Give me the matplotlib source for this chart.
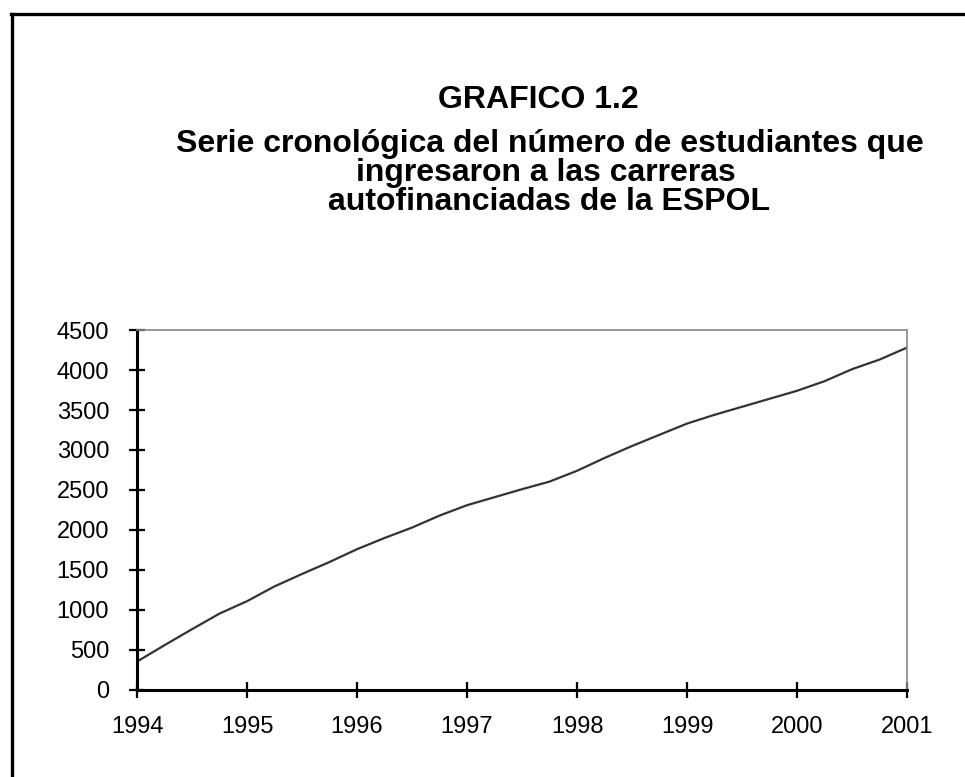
import numpy as np
import matplotlib.pyplot as plt
from matplotlib.lines import Line2D

plt.rcParams['font.family'] = ['Liberation Sans', 'DejaVu Sans']

# quarterly readings, 1994 - 2001
years = np.arange(1994, 2001.01, 0.25)
estudiantes = [355, 560, 760, 955, 1110, 1295, 1450, 1600,
               1760, 1900, 2030, 2180, 2310, 2410, 2510, 2605,
               2740, 2900, 3050, 3190, 3330, 3440, 3540, 3640,
               3740, 3860, 4010, 4130, 4280]
year_ticks = [1994, 1995, 1996, 1997, 1998, 1999, 2000, 2001]
y_ticks = np.arange(0, 4501, 500)

title_lines = ["GRAFICO 1.2",
               "Serie cronológica del número de estudiantes que",
               "ingresaron a las carreras",
               "autofinanciadas de la ESPOL"]


def main():
    fig = plt.figure(figsize=(9.65, 7.77), dpi=100)
    ax = fig.add_axes([137 / 965, 1 - 690 / 777, 770 / 965, 360 / 777])

    ax.plot(years, estudiantes, color='#333333', lw=1.6)
    ax.set_xlim(1994, 2001)
    ax.set_ylim(0, 4500)
    ax.set_xticks(year_ticks)
    ax.set_yticks(y_ticks)
    ax.tick_params(direction='inout', length=12, width=1.6, labelsize=17, pad=13)
    ax.tick_params(axis='y', pad=14)

    for s in ['left', 'bottom']:
        ax.spines[s].set_linewidth(2.2)
        ax.spines[s].set_color('black')
    for s in ['top', 'right']:
        ax.spines[s].set_linewidth(1.2)
        ax.spines[s].set_color('#888888')

    # title block
    ys = [100, 144, 173, 202]
    xs = [538, 550, 546, 549]
    for t, x, y in zip(title_lines, xs, ys):
        fig.text(x / 965, 1 - y / 777, t, ha='center', va='center',
                 fontsize=23, fontweight='bold')

    # page frame (left and top edges)
    fig.add_artist(Line2D([12 / 965, 12 / 965], [0, 1 - 14 / 777],
                          transform=fig.transFigure, color='black', lw=2.4))
    fig.add_artist(Line2D([11 / 965, 1], [1 - 14 / 777, 1 - 14 / 777],
                          transform=fig.transFigure, color='black', lw=2.4))

    fig.savefig('out.png', dpi=100)


if __name__ == '__main__':
    main()
